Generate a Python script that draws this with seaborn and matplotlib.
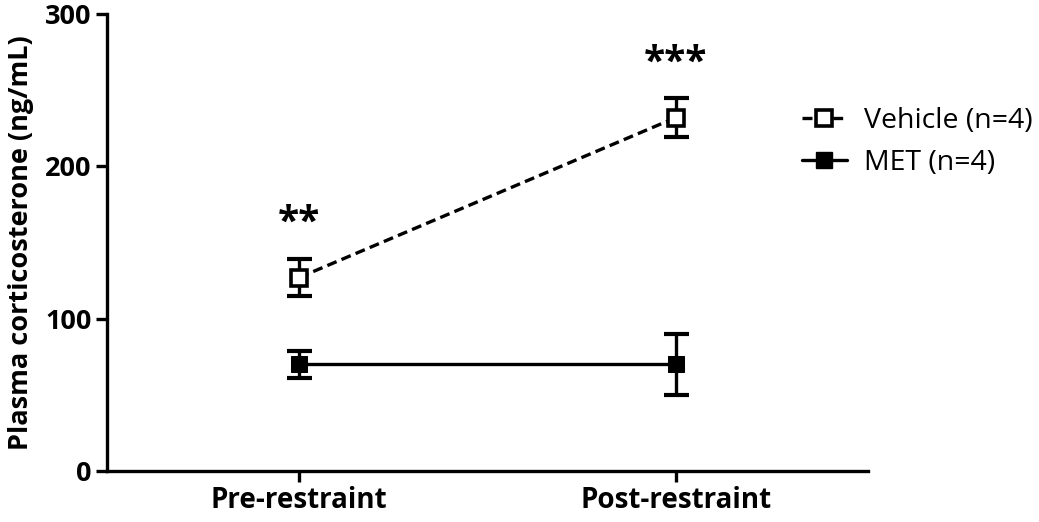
import matplotlib
matplotlib.use("Agg")
import matplotlib.pyplot as plt
import seaborn as sns
import pandas as pd
import numpy as np
from matplotlib.lines import Line2D

categories = ["Pre-restraint", "Post-restraint"]
vehicle_mean = [127, 232]
vehicle_err = [12, 13]
met_mean = [70, 70]
met_err = [9, 20]
series_names = ["Vehicle (n=4)", "MET (n=4)"]
stars = ["**", "***"]
star_y = [163, 268]
yticks = [0, 100, 200, 300]

sns.set_theme(style="ticks")
FONT = ['Open Sans', 'DejaVu Sans']
plt.rcParams['font.family'] = FONT
plt.rcParams.update({"text.color": "black", "axes.labelcolor": "black",
                     "xtick.color": "black", "ytick.color": "black"})

df = pd.DataFrame({
    "x": list(range(len(categories))) * 2,
    "y": vehicle_mean + met_mean,
    "group": [series_names[0]] * 2 + [series_names[1]] * 2,
})

fig = plt.figure(figsize=(10.39, 5.22), dpi=100)
ax = fig.add_axes([107/1039, 1 - 471/522, (868 - 107)/1039, (471 - 14)/522])

sns.lineplot(data=df, x="x", y="y", hue="group", style="group",
             palette=["black", "black"], dashes={series_names[0]: (3, 1.6), series_names[1]: ""},
             markers={series_names[0]: "s", series_names[1]: "s"},
             markersize=12, linewidth=2.4, ax=ax, legend=False)

lines = ax.get_lines()
lines[0].set_markerfacecolor("white")
lines[0].set_markeredgecolor("black")
lines[0].set_markeredgewidth(2.6)
lines[1].set_markerfacecolor("black")
lines[1].set_markeredgecolor("black")

xs = np.arange(len(categories))
ax.errorbar(xs, vehicle_mean, yerr=vehicle_err, fmt="none", ecolor="black",
            elinewidth=2.4, capsize=9, capthick=3, zorder=1)
ax.errorbar(xs, met_mean, yerr=met_err, fmt="none", ecolor="black",
            elinewidth=2.4, capsize=9, capthick=3, zorder=1)

for xi, s, yv in zip(xs, stars, star_y):
    ax.text(xi, yv, s, ha="center", va="center", fontsize=28, fontweight="bold", color="black")

ax.set_xlim(-0.51, 1.51)
ax.set_ylim(0, 300)
ax.set_yticks(yticks)
ax.set_xticks(xs)
ax.set_xticklabels(categories)
ax.set_xlabel("")
ax.set_ylabel("Plasma corticosterone (ng/mL)", fontsize=19.5, fontweight="bold", labelpad=8)
for lab in ax.get_xticklabels() + ax.get_yticklabels():
    lab.set_fontsize(19.5)
    lab.set_fontweight("bold")
for lab in ax.get_xticklabels():
    lab.set_fontsize(20)
ax.tick_params(axis="both", width=2.4, length=8, color="black", pad=3)
for sp in ["left", "bottom"]:
    ax.spines[sp].set_linewidth(2.4)
    ax.spines[sp].set_color("black")
sns.despine(ax=ax)

h1 = Line2D([], [], color="black", linestyle=(0, (3, 1.6)), linewidth=2.4, marker="s",
            markersize=11, markerfacecolor="white", markeredgecolor="black", markeredgewidth=2.6)
h2 = Line2D([], [], color="black", linestyle="-", linewidth=2.4, marker="s",
            markersize=11, markerfacecolor="black", markeredgecolor="black")
fig.legend([h1, h2], series_names, loc="upper left", bbox_to_anchor=(776/1039, 1 - 81/522),
           frameon=False, fontsize=20.5, handlelength=1.6, handletextpad=0.6, labelspacing=0.5)

fig.savefig("out.png", dpi=100)
